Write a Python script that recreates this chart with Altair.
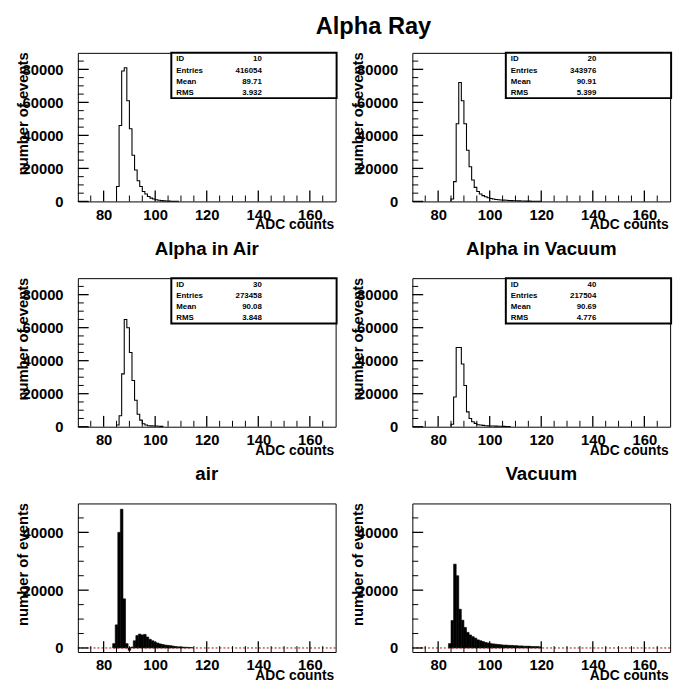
import altair as alt
import pandas as pd

FONT = "Liberation Sans"
W, H = 262, 151

# ---------------- data ----------------
x_major = [80, 100, 120, 140, 160]
x_minor = [75, 85, 90, 95, 105, 110, 115, 125, 130, 135, 145, 150, 155, 165]

y_major_top = [0, 20000, 40000, 60000, 80000]
y_minor_top = [5000, 10000, 15000, 25000, 30000, 35000, 45000, 50000, 55000,
               65000, 70000, 75000, 85000]
y_major_bot = [0, 20000, 40000]
y_minor_bot = [5000, 10000, 15000, 25000, 30000, 35000, 45000]

# ID 10 (top left) : bins of width 1 starting at 85
h10_start = 85
h10 = [9000, 46000, 79000, 81000, 61000, 44000, 28000, 19000, 12500, 9000,
       6000, 4500, 3000, 2000, 1500, 1000, 700, 500, 350, 250, 180, 120, 80, 50]
# ID 20 (top right)
h20_start = 85
h20 = [1500, 12000, 47000, 72000, 61000, 47000, 31000, 21000, 13000, 8500,
       6000, 4500, 3500, 2800, 2200, 1800, 1500, 1200, 1000, 900, 800, 700,
       600, 500, 450, 400, 350, 300, 250, 200, 180, 150, 120, 100, 80]
# ID 30 "Alpha in Air"
h30_start = 85
h30 = [1000, 6600, 32000, 65000, 60000, 45000, 28000, 16000, 7600, 4000,
       1800, 1000, 600, 500, 450, 400, 300, 200]
# ID 40 "Alpha in Vacuum"
h40_start = 85
h40 = [1500, 18000, 48000, 48000, 38000, 25000, 9000, 5000, 3000, 2000,
       1200, 1000, 800, 600, 500, 450, 400, 350, 300, 250, 200, 150, 100]
# "air"
hair_start = 83.5
hair = [1500, 8000, 40000, 48000, 17000, 1500, -800, 300, 2500, 4300, 4800,
        4500, 4700, 3800, 3000, 2500, 2000, 1700, 1400, 1200, 1000, 900, 800,
        650, 500, 400, 350, 300, 250, 200, 150]
# "Vacuum"
hvac_start = 84
hvac = [1500, 9500, 29000, 25000, 13400, 9600, 7100, 5400, 4500, 3900, 3400,
        2800, 2500, 2200, 1900, 1700, 1500, 1400, 1300, 1200, 1100, 1000, 1000,
        900, 900, 800, 800, 700, 700, 600, 600, 600, 500, 500, 500, 400]

stat_names = ["ID", "Entries", "Mean", "RMS"]
stats10 = ["10", "416054", "89.71", "3.932"]
stats20 = ["20", "343976", "90.91", "5.399"]
stats30 = ["30", "273458", "90.08", "3.848"]
stats40 = ["40", "217504", "90.69", "4.776"]

# ---------------- helpers ----------------
XS = alt.Scale(domain=[70, 170], nice=False, zero=False)


def x_axis():
    return alt.Axis(values=x_major, ticks=False, domain=False, grid=False,
                    labelFont=FONT, labelFontWeight="bold", labelFontSize=15,
                    labelColor="black", labelPadding=6, labelFlush=False,
                    title="ADC counts", titleFont=FONT, titleFontWeight="bold",
                    titleFontSize=14, titleColor="black", titleX=W - 2,
                    titleY=17, titleAlign="right", titleBaseline="top")


def y_axis(vals):
    return alt.Axis(values=vals, format="d", ticks=False, domain=False, grid=False,
                    labelFont=FONT, labelFontWeight="bold", labelFontSize=15,
                    labelColor="black", labelPadding=15, labelFlush=False,
                    title="number of events", titleFont=FONT,
                    titleFontWeight="bold", titleFontSize=15, titleColor="black",
                    titleAngle=270, titleX=-56, titleY=-1, titleAlign="right",
                    titleBaseline="middle")


def panel(kind, start, counts, ydom, ymaj, ymin, stats=None, title=None):
    ys = alt.Scale(domain=ydom, nice=False, zero=False)

    def X(f):
        return alt.X(f, scale=XS, axis=x_axis())

    def Y(f):
        return alt.Y(f, scale=ys, axis=y_axis(ymaj))

    layers = []
    if kind == "line":
        xs_ = [start] + [start + i for i in range(len(counts))] + [start + len(counts)]
        yv = [0] + list(counts) + [0]
        df = pd.DataFrame({"x": xs_, "y": yv, "i": list(range(len(xs_)))})
        layers.append(
            alt.Chart(df).mark_line(interpolate="step-after", color="black",
                                    strokeWidth=1.1)
            .encode(x=X("x:Q"), y=Y("y:Q"), order="i:Q"))
    else:
        df = pd.DataFrame({"x": [start + i for i in range(len(counts))],
                           "x2": [start + i + 1 for i in range(len(counts))],
                           "y": counts, "base": [0] * len(counts)})
        layers.append(
            alt.Chart(df).mark_rect(color="black", stroke="black", strokeWidth=0.6)
            .encode(x=X("x:Q"), x2="x2:Q", y=Y("y:Q"), y2="base:Q"))
        layers.append(
            alt.Chart(pd.DataFrame({"y": [0]})).mark_rule(
                color="#b00000", strokeDash=[2, 2], strokeWidth=1)
            .encode(y=Y("y:Q"), x=alt.value(0), x2=alt.value(W)))
    # inward ticks
    layers.append(alt.Chart(pd.DataFrame({"x": x_major})).mark_rule(color="black", strokeWidth=1.3)
                  .encode(x=X("x:Q"), y=alt.value(H), y2=alt.value(H - 11)))
    layers.append(alt.Chart(pd.DataFrame({"x": x_minor})).mark_rule(color="black", strokeWidth=1)
                  .encode(x=X("x:Q"), y=alt.value(H), y2=alt.value(H - 6)))
    layers.append(alt.Chart(pd.DataFrame({"y": ymaj})).mark_rule(color="black", strokeWidth=1.3)
                  .encode(y=Y("y:Q"), x=alt.value(0), x2=alt.value(11)))
    layers.append(alt.Chart(pd.DataFrame({"y": ymin})).mark_rule(color="black", strokeWidth=1)
                  .encode(y=Y("y:Q"), x=alt.value(0), x2=alt.value(6)))
    if stats is not None:
        layers.append(alt.Chart(pd.DataFrame({"a": [0]})).mark_rect(
            fill="white", stroke="black", strokeWidth=2)
            .encode(x=alt.value(95), x2=alt.value(W + 1), y=alt.value(0), y2=alt.value(46)))
        tdf = pd.DataFrame({"names": ["\n".join(stat_names)],
                            "vals": ["\n".join(stats)]})
        layers.append(alt.Chart(tdf).mark_text(
            align="left", baseline="top", font=FONT, fontWeight="bold",
            fontSize=8, lineBreak="\n", lineHeight=11.5, color="black")
            .encode(x=alt.value(100), y=alt.value(2.5), text="names:N"))
        layers.append(alt.Chart(tdf).mark_text(
            align="right", baseline="top", font=FONT, fontWeight="bold",
            fontSize=8, lineBreak="\n", lineHeight=11.5, color="black")
            .encode(x=alt.value(187), y=alt.value(2.5), text="vals:N"))
    ch = alt.layer(*layers).properties(width=W, height=H)
    if title is not None:
        ch = ch.properties(title=title)
    return ch


def ptitle(text):
    return alt.TitleParams(text, font=FONT, fontWeight="bold", fontSize=19,
                           color="black", anchor="middle", frame="group", offset=19)


TOP = [0, 90000]
BOT = [-1400, 50000]

main_title = alt.TitleParams("Alpha Ray", font=FONT, fontWeight="bold", fontSize=24,
                             color="black", anchor="middle", frame="group",
                             offset=13, dx=(W + 77) / 2)

p10 = panel("line", h10_start, h10, TOP, y_major_top, y_minor_top, stats10, main_title)
p20 = panel("line", h20_start, h20, TOP, y_major_top, y_minor_top, stats20)
p30 = panel("line", h30_start, h30, TOP, y_major_top, y_minor_top, stats30, ptitle("Alpha in Air"))
p40 = panel("line", h40_start, h40, TOP, y_major_top, y_minor_top, stats40, ptitle("Alpha in Vacuum"))
pair = panel("bar", hair_start, hair, BOT, y_major_bot, y_minor_bot, None, ptitle("air"))
pvac = panel("bar", hvac_start, hvac, BOT, y_major_bot, y_minor_bot, None, ptitle("Vacuum"))

chart = (alt.concat(p10, p20, p30, p40, pair, pvac, columns=2,
                    spacing={"row": 78, "column": 78}, bounds="flush")
         .properties(padding={"left": 7, "top": 1, "right": 5, "bottom": 0},
                     background="white")
         .configure_view(stroke="black", strokeWidth=1))

chart.save("out.html", embed_options={"renderer": "svg", "actions": False})
